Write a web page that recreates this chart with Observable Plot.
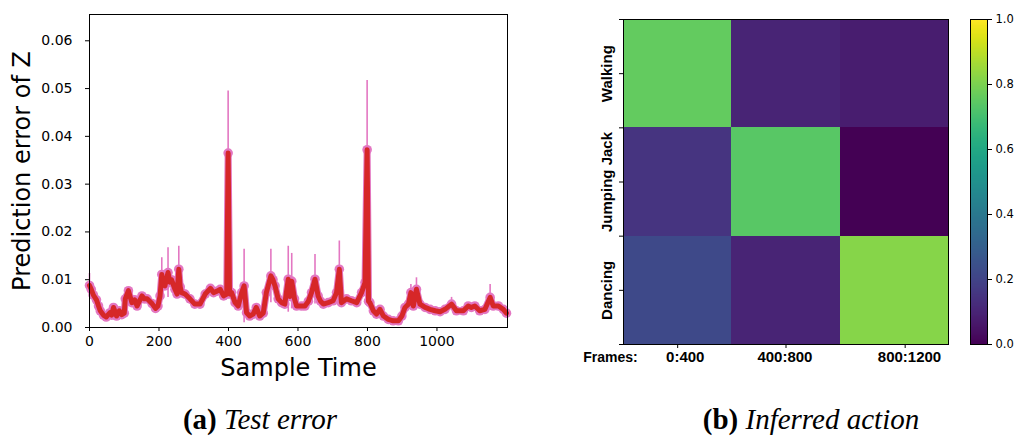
<!DOCTYPE html>
<html><head><meta charset="utf-8">
<script src="https://cdn.jsdelivr.net/npm/d3@7"></script>
<script src="https://cdn.jsdelivr.net/npm/@observablehq/plot@0.6"></script>
<style>
body{margin:0;background:#fff;width:1016px;height:437px;overflow:hidden;position:relative;}
.panel{position:absolute;top:0;}
.panel svg{max-width:none;display:block;}
.cap{position:absolute;font-family:"Liberation Serif",serif;font-size:29px;white-space:nowrap;transform:translateX(-50%);line-height:1;color:#000;}
</style></head><body>
<div id="a" class="panel" style="left:0;width:520px"></div>
<div id="b" class="panel" style="left:560px;width:400px"></div>
<div id="c" class="panel" style="left:960px;width:56px"></div>
<div class="cap" style="left:260px;top:405px"><b>(a)</b> <i>Test error</i></div>
<div class="cap" style="left:811px;top:405px"><b>(b)</b> <i>Inferred action</i></div>
<script>
// ---- Panel (a): prediction error over sample time ----
const sampleTimes = [0,5,11,20,26,31,40,48,59,64,69,78,86,93,100,103,112,122,130,137,151,158,166,180,190,197,203,208,212,217,226,231,236,246,252,257,261,265,275,289,303,318,333,348,357,367,376,386,395,399,403,409,419,428,438,445,452,461,471,480,490,500,509,522,528,534,543,553,562,572,577,582,590,596,610,620,630,639,649,658,665,673,687,701,711,719,725,740,754,769,783,793,799,803,807,817,826,836,846,860,874,889,899,908,918,925,932,941,951,966,980,995,1009,1023,1042,1056,1076,1090,1099,1109,1123,1138,1153,1162,1177,1191,1200];
const predError = [0.0088,0.0080,0.0068,0.0058,0.0045,0.0035,0.0026,0.0022,0.0031,0.0026,0.0042,0.0024,0.0035,0.0027,0.0030,0.0060,0.0077,0.0052,0.0058,0.0045,0.0066,0.0060,0.0060,0.0050,0.0040,0.0045,0.0066,0.0111,0.0090,0.0087,0.0115,0.0095,0.0100,0.0080,0.0070,0.0122,0.0085,0.0073,0.0070,0.0060,0.0049,0.0049,0.0070,0.0082,0.0073,0.0076,0.0080,0.0066,0.0070,0.0365,0.0070,0.0073,0.0052,0.0045,0.0073,0.0087,0.0031,0.0024,0.0028,0.0042,0.0024,0.0030,0.0073,0.0108,0.0100,0.0087,0.0060,0.0052,0.0049,0.0101,0.0065,0.0097,0.0060,0.0045,0.0045,0.0045,0.0055,0.0073,0.0101,0.0066,0.0055,0.0049,0.0052,0.0056,0.0073,0.0122,0.0052,0.0060,0.0056,0.0052,0.0073,0.0094,0.0372,0.0055,0.0052,0.0035,0.0028,0.0038,0.0024,0.0017,0.0014,0.0014,0.0024,0.0042,0.0049,0.0073,0.0045,0.0080,0.0049,0.0042,0.0038,0.0035,0.0033,0.0038,0.0049,0.0035,0.0035,0.0045,0.0042,0.0045,0.0035,0.0038,0.0063,0.0045,0.0045,0.0038,0.0030];
const errBarTimes = [0,208,226,257,399,445,522,572,582,649,719,799,925,941,1042,1153];
const errBarHalf = [0.0025,0.0035,0.0052,0.0048,0.0130,0.0077,0.0056,0.0069,0.0058,0.0052,0.0059,0.0145,0.0017,0.0024,0.0014,0.0027];
const xTicksA = [0,200,400,600,800,1000];
const yTicksA = [0,0.01,0.02,0.03,0.04,0.05,0.06];

// ---- Panel (b): inferred action probabilities ----
const actions = ["Walking","Jumping Jack","Dancing"];
const frameLabels = ["0:400","400:800","800:1200"];
const probWalking = [0.76,0.10,0.08];
const probJumpingJack = [0.15,0.74,0.00];
const probDancing = [0.22,0.10,0.82];
const colorbarTicks = [0,0.2,0.4,0.6,0.8,1.0];

const pink = "#e377c2", red = "#d62728";
const series = sampleTimes.map((t,i)=>({t, v: predError[i]}));
const vAt = new Map(series.map(d=>[d.t,d.v]));
const bars = errBarTimes.map((t,i)=>({t, lo: vAt.get(t)-errBarHalf[i], hi: vAt.get(t)+errBarHalf[i]}));

const plotA = Plot.plot({
  width:520, height:390, marginLeft:89, marginRight:13, marginTop:14, marginBottom:63,
  style:{fontFamily:"DejaVu Sans", fontSize:"14px", color:"#000", background:"#fff"},
  x:{domain:[0,1203], axis:null}, y:{domain:[0,0.0655], axis:null},
  marks:[
    Plot.lineY(series,{x:"t", y:"v", stroke:pink, strokeWidth:7, strokeLinejoin:"round", strokeLinecap:"round"}),
    Plot.ruleX(bars,{x:"t", y1:"lo", y2:"hi", stroke:pink, strokeWidth:1.6}),
    Plot.dot(series,{x:"t", y:"v", r:4.8, fill:pink, stroke:null}),
    Plot.lineY(series,{x:"t", y:"v", stroke:red, strokeWidth:5, strokeLinejoin:"round"}),
    Plot.frame({stroke:"#000", strokeWidth:1}),
    Plot.axisX({ticks:xTicksA, tickFormat:"d", tickSize:4, tickPadding:5, label:null, fontSize:14}),
    Plot.axisY({ticks:yTicksA, tickFormat:".2f", tickSize:4, tickPadding:13, label:null, fontSize:14}),
    Plot.text(["Prediction error of Z"],{frameAnchor:"left", rotate:-90, dx:-67, textAnchor:"middle", lineAnchor:"middle", fontSize:24}),
    Plot.text(["Sample Time"],{frameAnchor:"bottom", dy:41, textAnchor:"middle", lineAnchor:"middle", fontSize:24})
  ]
});
document.getElementById("a").append(plotA);

const probs = [probWalking, probJumpingJack, probDancing];
const cells = [];
actions.forEach((a,r)=>frameLabels.forEach((f,c)=>cells.push({r, c, p: probs[r][c]})));
const xTickPos = [0.5,1.5,2.6];
const xLabelPos = [0.57,1.49,2.64];
const rowCenters = [0.5,1.5,2.5];

const plotB = Plot.plot({
  width:400, height:390, marginLeft:63, marginRight:12, marginTop:19, marginBottom:46,
  style:{fontFamily:"Liberation Sans", fontSize:"15px", color:"#000", background:"#fff"},
  x:{domain:[0,3], axis:null}, y:{domain:[0,3], reverse:true, axis:null},
  color:{type:"linear", scheme:"viridis", domain:[0,1]},
  marks:[
    Plot.rect(cells,{x1:"c", x2:d=>d.c+1, y1:"r", y2:d=>d.r+1, fill:"p", inset:0, shapeRendering:"crispEdges"}),
    Plot.frame({stroke:"#000", strokeWidth:1}),
    Plot.axisY({ticks:[0,0.5,1,1.5,2,2.5,3], tickFormat:()=>"", tickSize:4, label:null}),
    Plot.text(actions,{y:(d,i)=>rowCenters[i], frameAnchor:"left", rotate:-90, dx:-16, textAnchor:"middle", lineAnchor:"middle", fontWeight:"bold", fontSize:15}),
    Plot.axisX({ticks:xTickPos, tickFormat:()=>"", tickSize:4, label:null}),
    Plot.axisX({ticks:xLabelPos, tickFormat:d=>frameLabels[xLabelPos.indexOf(d)], tickSize:0, tickPadding:7, label:null, fontWeight:"bold", fontSize:15}),
    Plot.text(["Frames:"],{frameAnchor:"bottom-left", dx:-13, dy:13.5, textAnchor:"middle", lineAnchor:"middle", fontWeight:"bold", fontSize:14})
  ]
});
document.getElementById("b").append(plotB);

const plotC = Plot.plot({
  width:56, height:390, marginLeft:10, marginRight:29, marginTop:19, marginBottom:46,
  style:{fontFamily:"DejaVu Sans", fontSize:"11.5px", color:"#000", background:"#fff"},
  x:{domain:[0,1], axis:null}, y:{domain:[0,1], axis:null},
  color:{type:"linear", scheme:"viridis", domain:[0,1]},
  marks:[
    Plot.raster({x1:0, x2:1, y1:0, y2:1, fill:(x,y)=>y, imageRendering:"auto"}),
    Plot.frame({stroke:"#000", strokeWidth:1}),
    Plot.axisY({anchor:"right", ticks:colorbarTicks, tickFormat:".1f", tickSize:4, tickPadding:4, label:null, fontSize:11.5})
  ]
});
document.getElementById("c").append(plotC);
</script>
</body></html>
